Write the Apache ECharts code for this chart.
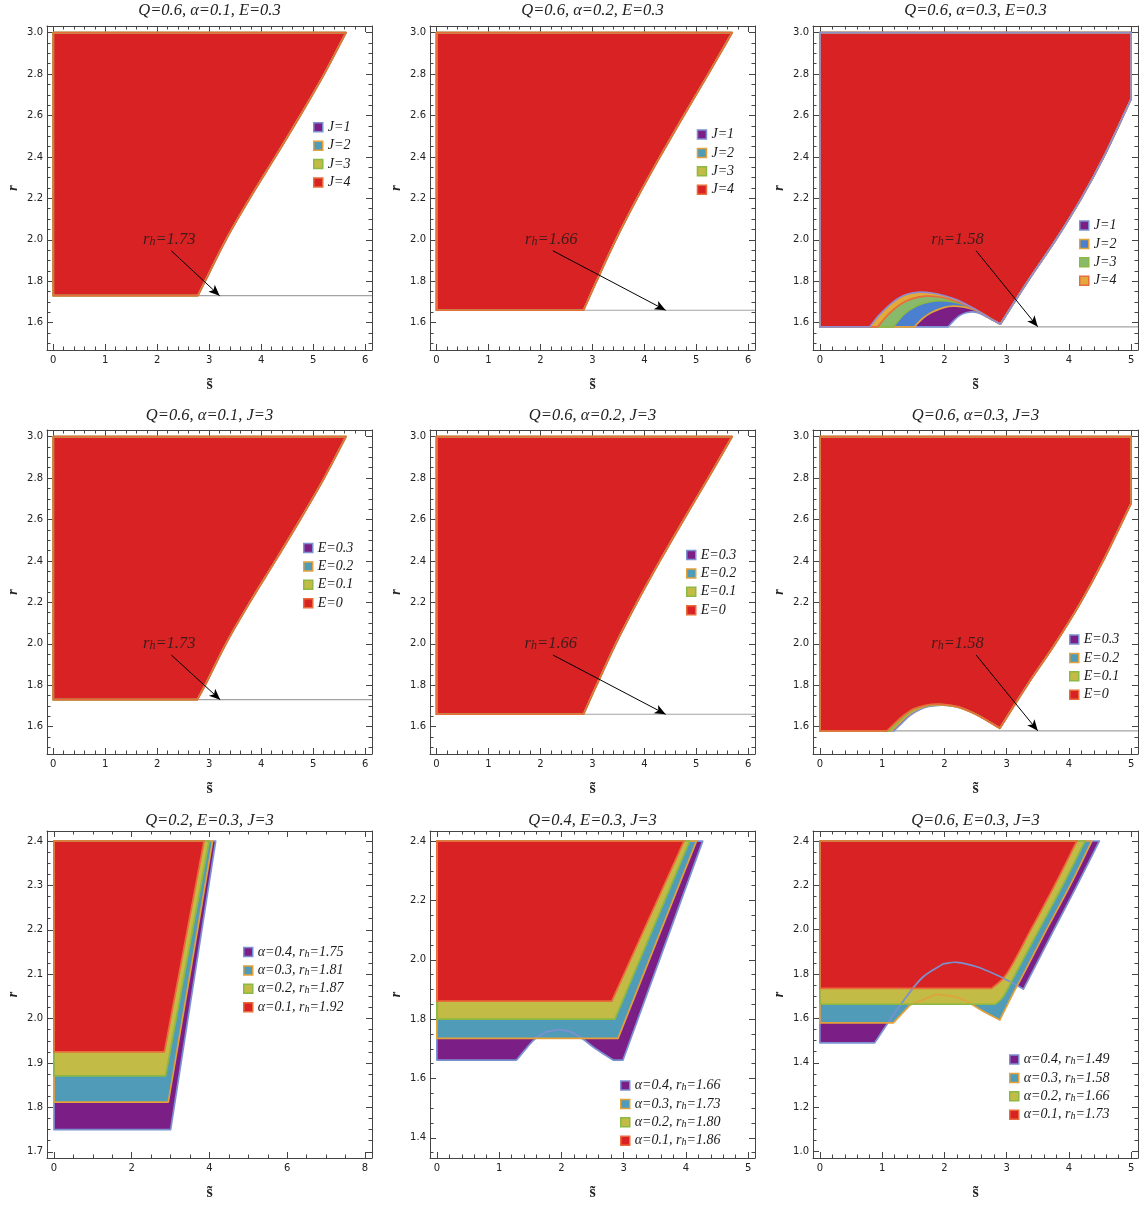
<!DOCTYPE html>
<html><head><meta charset="utf-8">
<script src="https://cdn.jsdelivr.net/npm/echarts@6/dist/echarts.min.js"></script>
<style>html,body{margin:0;padding:0;background:#fff}#c{width:1145px;height:1205px}</style>
</head><body><div id="c"></div>
<script>
// ===================== DATA =====================
const panelTitles = ["Q=0.6, α=0.1, E=0.3","Q=0.6, α=0.2, E=0.3","Q=0.6, α=0.3, E=0.3",
                     "Q=0.6, α=0.1, J=3","Q=0.6, α=0.2, J=3","Q=0.6, α=0.3, J=3",
                     "Q=0.2, E=0.3, J=3","Q=0.4, E=0.3, J=3","Q=0.6, E=0.3, J=3"];
// tick labels
const xTicks6 = [0,1,2,3,4,5,6];
const xTicks5 = [0,1,2,3,4,5];
const xTicks8 = [0,2,4,6,8];
const yTicksTop = [1.6,1.8,2.0,2.2,2.4,2.6,2.8,3.0];
const yTicks7 = [1.7,1.8,1.9,2.0,2.1,2.2,2.3,2.4];
const yTicks8 = [1.4,1.6,1.8,2.0,2.2,2.4];
const yTicks9 = [1.0,1.2,1.4,1.6,1.8,2.0,2.2,2.4];
// legend labels
const labelsJ = ["J=1","J=2","J=3","J=4"];
const labelsE = ["E=0.3","E=0.2","E=0.1","E=0"];
const labelsA7 = ["α=0.4, r_h=1.75","α=0.3, r_h=1.81","α=0.2, r_h=1.87","α=0.1, r_h=1.92"];
const labelsA8 = ["α=0.4, r_h=1.66","α=0.3, r_h=1.73","α=0.2, r_h=1.80","α=0.1, r_h=1.86"];
const labelsA9 = ["α=0.4, r_h=1.49","α=0.3, r_h=1.58","α=0.2, r_h=1.66","α=0.1, r_h=1.73"];
// horizon radii and annotations (panels 1-6)
const rhValues = [1.73,1.66,1.58,1.73,1.66,1.58];
const rhLabels = ["r_h=1.73","r_h=1.66","r_h=1.58","r_h=1.73","r_h=1.66","r_h=1.58"];
const rhLabelAt = [[2.23,2.0],[2.21,2.0],[2.21,2.0],[2.23,2.0],[2.20,2.0],[2.21,2.0]];
const arrowFrom = [[2.27,1.947],[2.24,1.947],[2.51,1.947],[2.27,1.946],[2.24,1.946],[2.51,1.946]];
const arrowTo   = [[3.20,1.73],[4.41,1.66],[3.50,1.58],[3.21,1.73],[4.41,1.66],[3.50,1.58]];

// region boundaries (s~, r)
const regionP1 = [[0,1.73],[0,3.0],[5.63,3.0],[5.21,2.8],[4.75,2.6],[4.27,2.4],[3.78,2.2],[3.32,2.0],[2.92,1.8],[2.78,1.73]];
const regionP2 = [[0,1.66],[0,3.0],[5.69,3.0],[5.23,2.8],[4.76,2.6],[4.30,2.4],[3.86,2.2],[3.45,2.0],[3.08,1.8],[2.83,1.66]];
const regionP4 = [[0,1.73],[0,3.0],[5.63,3.0],[5.21,2.8],[4.75,2.6],[4.27,2.4],[3.78,2.2],[3.32,2.0],[2.92,1.8],[2.77,1.73]];
const regionP5 = [[0,1.66],[0,3.0],[5.69,3.0],[5.23,2.8],[4.76,2.6],[4.30,2.4],[3.86,2.2],[3.45,2.0],[3.08,1.8],[2.83,1.66]];

const outerP3 = [[0,3.0],[5.0,3.0],[5.0,2.68],[4.56,2.4],[4.20,2.2],[3.79,2.0],[3.34,1.8],[2.9,1.593]];
const holeP3_J1 = [[2.06,1.58],[2.15,1.61],[2.25,1.635],[2.35,1.648],[2.46,1.652],[2.57,1.645],[2.7,1.625],[2.9,1.593]];
const holeP3_J2 = [[1.52,1.58],[1.65,1.62],[1.8,1.65],[2.0,1.674],[2.15,1.68],[2.3,1.676],[2.45,1.665],[2.6,1.645],[2.75,1.618],[2.9,1.593]];
const holeP3_J3 = [[1.18,1.58],[1.35,1.64],[1.55,1.68],[1.75,1.70],[1.95,1.706],[2.15,1.70],[2.35,1.684],[2.5,1.664],[2.6,1.645],[2.75,1.618],[2.9,1.593]];
const holeP3_J4 = [[0.93,1.58],[1.1,1.64],[1.3,1.69],[1.5,1.717],[1.7,1.728],[1.9,1.725],[2.1,1.712],[2.3,1.69],[2.45,1.668],[2.6,1.645],[2.75,1.618],[2.9,1.593]];
const holeP3_top = [[0.80,1.58],[0.95,1.635],[1.1,1.68],[1.25,1.715],[1.4,1.737],[1.6,1.747],[1.8,1.743],[2.0,1.73],[2.2,1.71],[2.4,1.68],[2.6,1.645],[2.75,1.618],[2.9,1.593]];

const outerP6 = [[0,3.0],[5.0,3.0],[5.0,2.678],[4.55,2.4],[4.19,2.2],[3.78,2.0],[3.33,1.8],[2.89,1.592]];
const holeP6_E03 = [[1.19,1.58],[1.3,1.612],[1.45,1.655],[1.6,1.682],[1.75,1.698],[1.9,1.703],[2.05,1.702],[2.25,1.691],[2.45,1.667],[2.65,1.636],[2.89,1.592]];
const holeP6_E02 = [[1.15,1.58],[1.26,1.612],[1.41,1.655],[1.56,1.683],[1.72,1.70],[1.88,1.705],[2.05,1.703],[2.25,1.692],[2.45,1.667],[2.65,1.636],[2.89,1.592]];
const holeP6_E01 = [[1.12,1.58],[1.23,1.612],[1.38,1.655],[1.53,1.684],[1.7,1.701],[1.88,1.707],[2.05,1.704],[2.25,1.692],[2.45,1.668],[2.65,1.636],[2.89,1.592]];
const holeP6_E0  = [[1.08,1.58],[1.2,1.615],[1.35,1.655],[1.5,1.685],[1.7,1.703],[1.88,1.709],[2.05,1.705],[2.25,1.693],[2.45,1.668],[2.65,1.636],[2.89,1.592]];

const purpleP7 = [[0,1.75],[0,2.4],[4.16,2.4],[3.0,1.75]];
const tealP7   = [[0,1.812],[0,2.4],[4.08,2.4],[2.94,1.812]];
const oliveP7  = [[0,1.871],[0,2.4],[3.99,2.4],[2.87,1.871]];
const redP7    = [[0,1.925],[0,2.4],[3.86,2.4],[2.84,1.925]];

const purpleP8 = [[0,1.662],[0,2.4],[4.27,2.4],[2.99,1.662],[2.83,1.662],[2.55,1.70],[2.35,1.732],[2.15,1.757],[1.95,1.765],[1.75,1.757],[1.57,1.732],[1.45,1.705],[1.28,1.662]];
const tealP8   = [[0,1.735],[0,2.4],[4.17,2.4],[2.91,1.735]];
const oliveP8  = [[0,1.80],[0,2.4],[4.06,2.4],[2.86,1.80]];
const redP8    = [[0,1.861],[0,2.4],[3.97,2.4],[2.81,1.861]];

const purpleP9 = [[0,1.49],[0,2.4],[4.49,2.4],[4.13,2.2],[3.76,2.0],[3.27,1.732],[3.16,1.75],[2.84,1.796],[2.52,1.833],[2.2,1.853],[1.98,1.846],[1.66,1.788],[1.39,1.698],[1.125,1.593],[0.88,1.49]];
const tealP9   = [[0,1.58],[0,2.4],[4.37,2.4],[4.02,2.2],[3.64,2.0],[3.27,1.8],[3.08,1.7],[2.89,1.593],[2.63,1.631],[2.25,1.691],[1.876,1.709],[1.45,1.661],[1.18,1.58]];
const oliveP9  = [[0,1.664],[0,2.4],[4.26,2.4],[3.90,2.2],[3.52,2.0],[3.14,1.8],[2.95,1.7],[2.82,1.664]];
const redP9    = [[0,1.736],[0,2.4],[4.13,2.4],[3.77,2.2],[3.39,2.0],[3.0,1.8],[2.76,1.736]];

// ===================== STYLE / LAYOUT =====================
const SERIF = "'Liberation Serif','DejaVu Serif',serif";
const SANS = "'DejaVu Sans',sans-serif";
const FRAME = '#444';
const FILL = {purple:'#7b1f87', teal:'#4f9bb8', olive:'#c2bb45', red:'#d92223', blue:'#4a80cf', green:'#89b96b', orange:'#e2a93b'};
const EDGE = {lav:'#7b91d1', orange:'#e3a13a', green:'#8cb944', orred:'#e96d3b', lav2:'#8f8fcf'};

function withHole(outer, hole, base){
  const pts = [[0, base]].concat(outer);
  const h = hole.slice(0, hole.length - 1).reverse();
  return pts.concat(h);
}

const colL = [47,430,813], rowT = [26,430,831], W = 325, Hs = [324,324,327];
const xRange = [[-0.12,6.13],[-0.125,6.13],[-0.11,5.11],[-0.12,6.13],[-0.125,6.13],[-0.11,5.11],[-0.18,8.18],[-0.11,5.11],[-0.11,5.11]];
const yRange = [[1.468,3.032],[1.468,3.032],[1.468,3.032],[1.468,3.032],[1.468,3.032],[1.468,3.032],[1.686,2.4225],[1.332,2.434],[0.971,2.445]];
const legendAt = [[313,127.3],[696.7,134.5],[1079,225.5],[303,548],[686,555],[1069,639.5],[243,952],[620,1085.5],[1009,1059.5]];

function std(lbls, polys){
  const f = [FILL.purple, FILL.teal, FILL.olive, FILL.red];
  const e = [EDGE.lav, EDGE.orange, EDGE.green, EDGE.orred];
  return lbls.map((l,k)=>({label:l, poly:polys[k], fill:f[k], edge:e[k], legend:true}));
}

const panels = [
  {xt:xTicks6, xs:0.2, yt:yTicksTop, ys:0.05, regions: std(labelsJ,[regionP1,regionP1,regionP1,regionP1])},
  {xt:xTicks6, xs:0.2, yt:yTicksTop, ys:0.05, regions: std(labelsJ,[regionP2,regionP2,regionP2,regionP2])},
  {xt:xTicks5, xs:0.2, yt:yTicksTop, ys:0.05, regions: [
     {label:labelsJ[0], poly:withHole(outerP3,holeP3_J1,1.58), fill:FILL.purple, edge:EDGE.lav, legend:true},
     {label:labelsJ[1], poly:withHole(outerP3,holeP3_J2,1.58), fill:FILL.blue, edge:EDGE.orange, legend:true},
     {label:labelsJ[2], poly:withHole(outerP3,holeP3_J3,1.58), fill:FILL.green, edge:EDGE.green, legend:true},
     {label:labelsJ[3], poly:withHole(outerP3,holeP3_J4,1.58), fill:FILL.orange, edge:EDGE.orred, legend:true},
     {label:'all', poly:withHole(outerP3,holeP3_top,1.58), fill:FILL.red, edge:EDGE.lav2, legend:false}]},
  {xt:xTicks6, xs:0.2, yt:yTicksTop, ys:0.05, regions: std(labelsE,[regionP4,regionP4,regionP4,regionP4])},
  {xt:xTicks6, xs:0.2, yt:yTicksTop, ys:0.05, regions: std(labelsE,[regionP5,regionP5,regionP5,regionP5])},
  {xt:xTicks5, xs:0.2, yt:yTicksTop, ys:0.05, regions: std(labelsE,[
     withHole(outerP6,holeP6_E03,1.58), withHole(outerP6,holeP6_E02,1.58),
     withHole(outerP6,holeP6_E01,1.58), withHole(outerP6,holeP6_E0,1.58)])},
  {xt:xTicks8, xs:0.5, yt:yTicks7, ys:0.025, regions: std(labelsA7,[purpleP7,tealP7,oliveP7,redP7])},
  {xt:xTicks5, xs:0.2, yt:yTicks8, ys:0.05, regions: std(labelsA8,[purpleP8,tealP8,oliveP8,redP8])},
  {xt:xTicks5, xs:0.2, yt:yTicks9, ys:0.05, regions: std(labelsA9,[purpleP9,tealP9,oliveP9,redP9])}
];

function minors(min, max, step, majors){
  const out = [];
  for (let k = Math.ceil(min/step - 1e-9); k*step <= max + 1e-9; k++){
    const v = +(k*step).toFixed(6);
    if (!majors.some(m => Math.abs(m - v) < 1e-6)) out.push(v);
  }
  return out;
}
function rich(s){
  const k = s.indexOf('_h');
  if (k < 0) return '{t|' + s + '}';
  return '{t|' + s.slice(0,k) + '}{s|h}{t|' + s.slice(k+2) + '}';
}
function richStyle(fs){
  return {
    t:{fontFamily:SERIF, fontStyle:'italic', fontSize:fs, color:'#1a1a1a', lineHeight:fs, verticalAlign:'bottom'},
    s:{fontFamily:SERIF, fontStyle:'italic', fontSize:Math.round(fs*0.72), color:'#1a1a1a', lineHeight:Math.round(fs*0.4), verticalAlign:'bottom'}
  };
}
// closed path through pixel points: gentle bends are splined, corners kept sharp
function smoothPath(pts){
  const n = pts.length;
  const sharp = pts.map((p, i) => {
    const a = pts[(i - 1 + n) % n], b = pts[(i + 1) % n];
    const v1 = [p[0] - a[0], p[1] - a[1]], v2 = [b[0] - p[0], b[1] - p[1]];
    const ang = Math.abs(Math.atan2(v1[0]*v2[1] - v1[1]*v2[0], v1[0]*v2[0] + v1[1]*v2[1])) * 180 / Math.PI;
    return ang >= 20;
  });
  const tan = k => { const a = pts[(k - 1 + n) % n], b = pts[(k + 1) % n]; return [(b[0]-a[0])/6, (b[1]-a[1])/6]; };
  let d = 'M' + pts[0][0].toFixed(2) + ' ' + pts[0][1].toFixed(2);
  for (let i = 0; i < n; i++){
    const j = (i + 1) % n, p0 = pts[i], p1 = pts[j];
    let c1, c2;
    if (!sharp[i]) { const t = tan(i); c1 = [p0[0] + t[0], p0[1] + t[1]]; }
    else c1 = [p0[0] + (p1[0]-p0[0])/3, p0[1] + (p1[1]-p0[1])/3];
    if (!sharp[j]) { const t = tan(j); c2 = [p1[0] - t[0], p1[1] - t[1]]; }
    else c2 = [p1[0] - (p1[0]-p0[0])/3, p1[1] - (p1[1]-p0[1])/3];
    d += ' C' + [c1[0], c1[1], c2[0], c2[1], p1[0], p1[1]].map(v => v.toFixed(2)).join(' ');
  }
  return d + ' Z';
}
function polyRenderer(n, mode, fill, edge){
  return function(params, api){
    if (params.dataIndexInside !== 0) return null;
    const pts = [];
    for (let j = 0; j < n; j++) pts.push(api.coord([api.value(0, j), api.value(1, j)]));
    const style = mode === 'fill' ? {fill: fill, stroke: null, lineWidth: 0}
                                  : {fill: null, stroke: edge, lineWidth: 1.7, lineJoin: 'round'};
    return {type:'path', shape:{pathData: smoothPath(pts)}, style: style, silent: true};
  };
}

const grids = [], xAxes = [], yAxes = [], series = [], legends = [], titles = [];
const labelOf = {};

panels.forEach((p, i) => {
  const c = i % 3, r = Math.floor(i / 3);
  grids.push({left: colL[c], top: rowT[r], width: W, height: Hs[r], outerBoundsMode: 'none', containLabel: false});
  const [x0, x1] = xRange[i], [y0, y1] = yRange[i];
  const xm = minors(x0, x1, p.xs, p.xt), ym = minors(y0, y1, p.ys, p.yt);
  const xDec = p.xt.every(v => Number.isInteger(v)) ? 0 : 1;
  const baseX = {gridIndex: i, type: 'value', min: x0, max: x1, splitLine: {show: false}};
  const baseY = {gridIndex: i, type: 'value', min: y0, max: y1, splitLine: {show: false}};
  const xi = xAxes.length, yi = yAxes.length;
  const tickLS = {color: FRAME, width: 1};
  xAxes.push(Object.assign({}, baseX, {position: 'bottom',
    axisLine: {show: true, onZero: false, lineStyle: {color: FRAME, width: 1}},
    axisTick: {show: true, inside: true, length: 6, customValues: p.xt, lineStyle: tickLS},
    axisLabel: {show: true, customValues: p.xt, margin: 5, color: '#222', fontFamily: SANS, fontSize: 10,
                formatter: v => (+v).toFixed(xDec)},
    name: 's\u0303', nameLocation: 'middle', nameGap: 27,
    nameTextStyle: {fontFamily: SERIF, fontWeight: 'bold', fontSize: 16, color: '#222'}}));
  xAxes.push(Object.assign({}, baseX, {position: 'bottom', axisLine: {show: false, onZero: false},
    axisTick: {show: true, inside: true, length: 3.5, customValues: xm, lineStyle: tickLS}, axisLabel: {show: false}}));
  xAxes.push(Object.assign({}, baseX, {position: 'top',
    axisLine: {show: true, onZero: false, lineStyle: {color: FRAME, width: 1}},
    axisTick: {show: true, inside: true, length: 6, customValues: p.xt, lineStyle: tickLS}, axisLabel: {show: false}}));
  xAxes.push(Object.assign({}, baseX, {position: 'top', axisLine: {show: false, onZero: false},
    axisTick: {show: true, inside: true, length: 3.5, customValues: xm, lineStyle: tickLS}, axisLabel: {show: false}}));
  yAxes.push(Object.assign({}, baseY, {position: 'left',
    axisLine: {show: true, onZero: false, lineStyle: {color: FRAME, width: 1}},
    axisTick: {show: true, inside: true, length: 6, customValues: p.yt, lineStyle: tickLS},
    axisLabel: {show: true, customValues: p.yt, margin: 4, color: '#222', fontFamily: SANS, fontSize: 10,
                formatter: v => (+v).toFixed(1)},
    name: 'r', nameLocation: 'middle', nameGap: 27, nameRotate: 90,
    nameTextStyle: {fontFamily: SERIF, fontWeight: 'bold', fontStyle: 'italic', fontSize: 14, color: '#222'}}));
  yAxes.push(Object.assign({}, baseY, {position: 'left', axisLine: {show: false, onZero: false},
    axisTick: {show: true, inside: true, length: 3.5, customValues: ym, lineStyle: tickLS}, axisLabel: {show: false}}));
  yAxes.push(Object.assign({}, baseY, {position: 'right',
    axisLine: {show: true, onZero: false, lineStyle: {color: FRAME, width: 1}},
    axisTick: {show: true, inside: true, length: 6, customValues: p.yt, lineStyle: tickLS}, axisLabel: {show: false}}));
  yAxes.push(Object.assign({}, baseY, {position: 'right', axisLine: {show: false, onZero: false},
    axisTick: {show: true, inside: true, length: 3.5, customValues: ym, lineStyle: tickLS}, axisLabel: {show: false}}));

  if (i < 6) {
    series.push({type: 'line', xAxisIndex: xi, yAxisIndex: yi, data: [[0, rhValues[i]], [x1, rhValues[i]]],
      symbol: 'none', lineStyle: {color: '#a3a3a3', width: 1.2}, silent: true, z: 1});
  }
  p.regions.forEach(rg => {
    const id = 'p' + i + ':' + rg.label;
    labelOf[id] = rg.label;
    series.push({type: 'custom', name: id, xAxisIndex: xi, yAxisIndex: yi, data: rg.poly,
      renderItem: polyRenderer(rg.poly.length, 'fill', rg.fill, rg.edge),
      itemStyle: {color: rg.fill, borderColor: rg.edge}, z: 2});
  });
  p.regions.forEach(rg => {
    series.push({type: 'custom', name: 'p' + i + ':' + rg.label + ':edge', xAxisIndex: xi, yAxisIndex: yi, data: rg.poly,
      renderItem: polyRenderer(rg.poly.length, 'edge', rg.fill, rg.edge), z: 3});
  });
  if (i < 6) {
    series.push({type: 'scatter', xAxisIndex: xi, yAxisIndex: yi, data: [rhLabelAt[i]], symbolSize: 0, z: 6,
      silent: true,
      label: {show: true, position: 'inside', formatter: () => rich(rhLabels[i]), rich: richStyle(16.5)},
      markLine: {silent: true, symbol: ['none', 'arrow'], symbolSize: [7, 11], animation: false,
        lineStyle: {color: '#000', width: 1, type: 'solid'}, label: {show: false}, emphasis: {disabled: true},
        data: [[{coord: arrowFrom[i]}, {coord: arrowTo[i]}]]}});
  }
  const lp = legendAt[i];
  legends.push({show: true, orient: 'vertical', left: lp[0], top: lp[1] - 7, padding: 0, itemGap: 4.4,
    itemWidth: 9, itemHeight: 9, icon: 'rect', selectedMode: false,
    data: p.regions.filter(rg => rg.legend).map(rg => ({name: 'p' + i + ':' + rg.label,
      itemStyle: {color: rg.fill, borderColor: rg.edge, borderWidth: 1.5}})),
    formatter: name => rich(labelOf[name]),
    textStyle: {rich: richStyle(14)}});
  titles.push({text: panelTitles[i], left: colL[c] + W / 2, textAlign: 'center', top: [2, 407.5, 812][r], padding: 0,
    textStyle: {fontFamily: SERIF, fontStyle: 'italic', fontWeight: 'normal', fontSize: 16.5, color: '#222'}});
});

const chart = echarts.init(document.getElementById('c'), null, {renderer: 'canvas'});
chart.setOption({
  animation: false, backgroundColor: '#fff',
  title: titles, grid: grids, xAxis: xAxes, yAxis: yAxes, legend: legends, series: series
});
</script>
</body></html>
